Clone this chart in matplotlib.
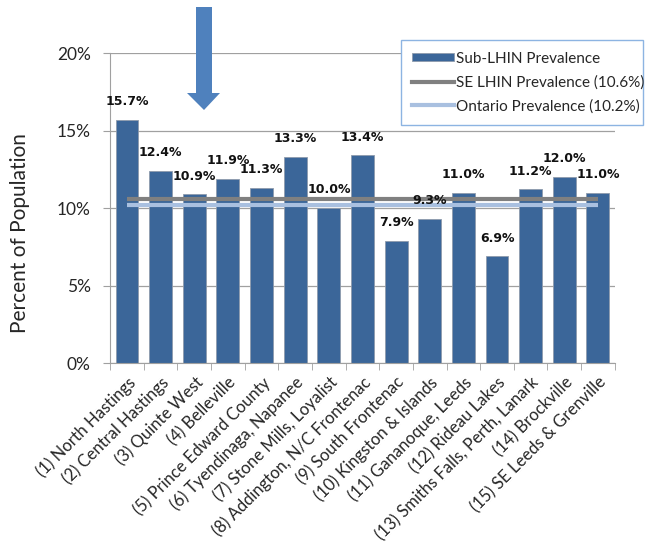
import numpy as np
import matplotlib
matplotlib.use("Agg")
import matplotlib.pyplot as plt
from matplotlib.patches import Polygon, Patch
from matplotlib.lines import Line2D
from matplotlib.ticker import FixedLocator, FuncFormatter

areas = [
    "(1) North Hastings",
    "(2) Central Hastings",
    "(3) Quinte West",
    "(4) Belleville",
    "(5) Prince Edward County",
    "(6) Tyendinaga, Napanee",
    "(7) Stone Mills, Loyalist",
    "(8) Addington, N/C Frontenac",
    "(9) South Frontenac",
    "(10) Kingston & Islands",
    "(11) Gananoque, Leeds",
    "(12) Rideau Lakes",
    "(13) Smiths Falls, Perth, Lanark",
    "(14) Brockville",
    "(15) SE Leeds & Grenville",
]
prevalence = [15.7, 12.4, 10.9, 11.9, 11.3, 13.3, 10.0, 13.4, 7.9, 9.3,
              11.0, 6.9, 11.2, 12.0, 11.0]
se_lhin = 10.6
ontario = 10.2
y_ticks = [0, 5, 10, 15, 20]

plt.rcParams['font.family'] = ['Lato', 'DejaVu Sans']

BAR = '#3B6699'
GRID = '#A0A0A0'
TEXT = '#262626'

fig = plt.figure(figsize=(6.46, 5.5), dpi=100)
ax = fig.add_axes([0.1706, 0.34, 0.781, 0.5636])

x = np.arange(len(areas))
ax.bar(x, prevalence, width=0.68, color=BAR, edgecolor='#8E9BAD',
       linewidth=0.6, zorder=2)
ax.plot([x[0], x[-1]], [se_lhin, se_lhin], color='#808080', lw=3,
        solid_capstyle='butt', zorder=3)
ax.plot([x[0], x[-1]], [ontario, ontario], color='#A9C0E0', lw=3,
        solid_capstyle='butt', zorder=3)

for xi, v in zip(x, prevalence):
    ax.annotate(f"{v:.1f}%", (xi, v), xytext=(0, 13), textcoords='offset points',
                ha='center', va='center', fontsize=9, fontweight='bold',
                family='DejaVu Sans', color='#111111', zorder=4)

ax.set_xlim(-0.5, len(areas) - 0.5)
ax.set_ylim(0, 20)
ax.yaxis.set_major_locator(FixedLocator(y_ticks))
ax.yaxis.set_major_formatter(FuncFormatter(lambda v, p: f"{v:.0f}%"))
ax.yaxis.grid(True, color=GRID, lw=0.9)
ax.set_axisbelow(True)

ax.set_xticks(x)
ax.set_xticklabels(areas, rotation=45, ha='right', rotation_mode='anchor',
                   fontsize=12, color=TEXT)
ax.set_xticks(np.arange(-0.5, len(areas), 1.0), minor=True)
ax.tick_params(axis='x', which='major', length=0, pad=8)
ax.tick_params(axis='x', which='minor', length=5, color=GRID, direction='out')
ax.tick_params(axis='y', length=5, color=GRID, direction='out', pad=9,
               labelsize=12.5, labelcolor=TEXT)

for s in ('top', 'right'):
    ax.spines[s].set_visible(False)
for s in ('left', 'bottom'):
    ax.spines[s].set_color(GRID)

ax.set_ylabel("Percent of Population", fontsize=15, color=TEXT)
ax.yaxis.set_label_coords(-0.158, 0.42)

handles = [
    Patch(facecolor=BAR, edgecolor='#8E9BAD', linewidth=0.6),
    Line2D([], [], color='#808080', lw=3),
    Line2D([], [], color='#A9C0E0', lw=3),
]
labels = ["Sub-LHIN Prevalence", f"SE LHIN Prevalence ({se_lhin}%)",
          f"Ontario Prevalence ({ontario}%)"]
leg = fig.legend(handles, labels, loc='upper left',
                 bbox_to_anchor=(0.6207, 0.778, 0.3746, 0.149), mode='expand',
                 borderaxespad=0, fontsize=11, frameon=True, fancybox=False,
                 framealpha=1, edgecolor='#8DB4E2', handlelength=2.7,
                 handleheight=0.45, handletextpad=0.15, labelspacing=0.62,
                 borderpad=0.75, labelcolor=TEXT)
leg.get_frame().set_linewidth(1.0)

# pointer arrow above the chart
overlay = fig.add_axes([0, 0, 1, 1], zorder=10)
overlay.set_xlim(0, 646)
overlay.set_ylim(550, 0)
overlay.axis('off')
overlay.add_patch(Polygon([(196, 7), (212, 7), (212, 93), (220, 93),
                           (204, 110), (187, 93), (196, 93)],
                          closed=True, facecolor='#4F81BD', edgecolor='none'))

fig.savefig("out.png", dpi=100)
